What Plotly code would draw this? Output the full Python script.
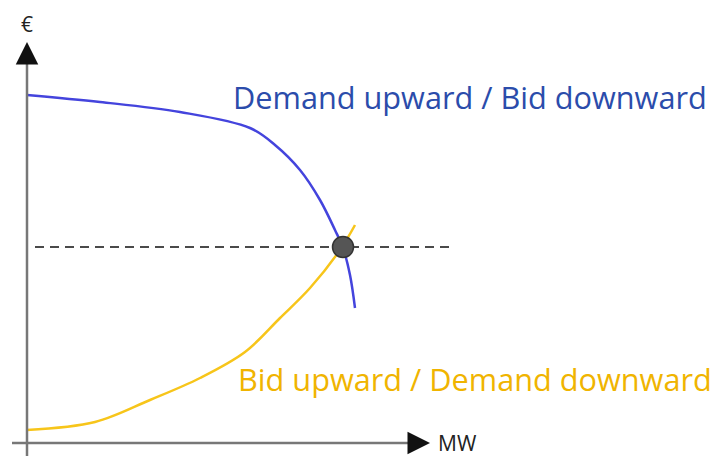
import plotly.graph_objects as go

# curves (screen-like units: x to the right, y downward)
demand_x = [27, 100, 180, 250, 275, 300, 320, 335, 343, 350, 355]
demand_y = [95, 102, 112, 128, 145, 170, 200, 230, 248, 275, 308]

bid_x = [27, 95, 150, 200, 245, 280, 310, 340, 355]
bid_y = [430, 422, 400, 378, 352, 318, 288, 250, 225]

eq_x = [343]
eq_y = [247]
price_level = 247

fig = go.Figure()

fig.add_trace(go.Scatter(x=demand_x, y=demand_y, mode='lines', line=dict(color='#4444dd', width=2.5, shape='spline'),
                         hoverinfo='skip'))
fig.add_trace(go.Scatter(x=bid_x, y=bid_y, mode='lines', line=dict(color='#f7c51a', width=2.5, shape='spline'),
                         hoverinfo='skip'))
fig.add_trace(go.Scatter(x=[35, 452], y=[price_level, price_level], mode='lines',
                         line=dict(color='#4a4a4a', width=1.8, dash='9px,6px'), hoverinfo='skip'))
fig.add_trace(go.Scatter(x=eq_x, y=eq_y, mode='markers',
                         marker=dict(size=21, color='#555555', line=dict(color='#333333', width=1.5)),
                         hoverinfo='skip'))

# axes: grey shafts with black arrow heads
fig.add_shape(type='line', x0=27, y0=456, x1=27, y1=60, line=dict(color='#777777', width=2.5))
fig.add_shape(type='line', x0=12, y0=443, x1=412, y1=443, line=dict(color='#777777', width=2.5))
fig.add_annotation(x=27, y=42, ax=27, ay=62, xref='x', yref='y', axref='x', ayref='y',
                   showarrow=True, arrowhead=2, arrowsize=1.5, arrowwidth=3, arrowcolor='#111111', text='')
fig.add_annotation(x=430, y=443, ax=410, ay=443, xref='x', yref='y', axref='x', ayref='y',
                   showarrow=True, arrowhead=2, arrowsize=1.5, arrowwidth=3, arrowcolor='#111111', text='')

fig.add_annotation(x=27, y=24, text='€', showarrow=False, font=dict(size=21, color='#222222', family='Open Sans'))
fig.add_annotation(x=436, y=443, text='MW', showarrow=False, xanchor='left',
                   font=dict(size=21, color='#222222', family='Open Sans'))
fig.add_annotation(x=231, y=97, text='Demand upward / Bid downward', showarrow=False, xanchor='left',
                   font=dict(size=30.7, color='#2b4cab', family='Open Sans'))
fig.add_annotation(x=236, y=379, text='Bid upward / Demand downward', showarrow=False, xanchor='left',
                   font=dict(size=30.7, color='#f0b400', family='Open Sans'))

fig.update_layout(
    width=713, height=456,
    margin=dict(l=0, r=0, t=0, b=0),
    paper_bgcolor='white', plot_bgcolor='white',
    showlegend=False,
    xaxis=dict(range=[0, 713], visible=False, fixedrange=True),
    yaxis=dict(range=[456, 0], visible=False, fixedrange=True),
)

# drop the default body margin so the figure fills the window exactly
fig.write_html("out.html", config={'displayModeBar': False},
               post_script="document.body.style.margin='0';document.body.style.overflow='hidden';")
